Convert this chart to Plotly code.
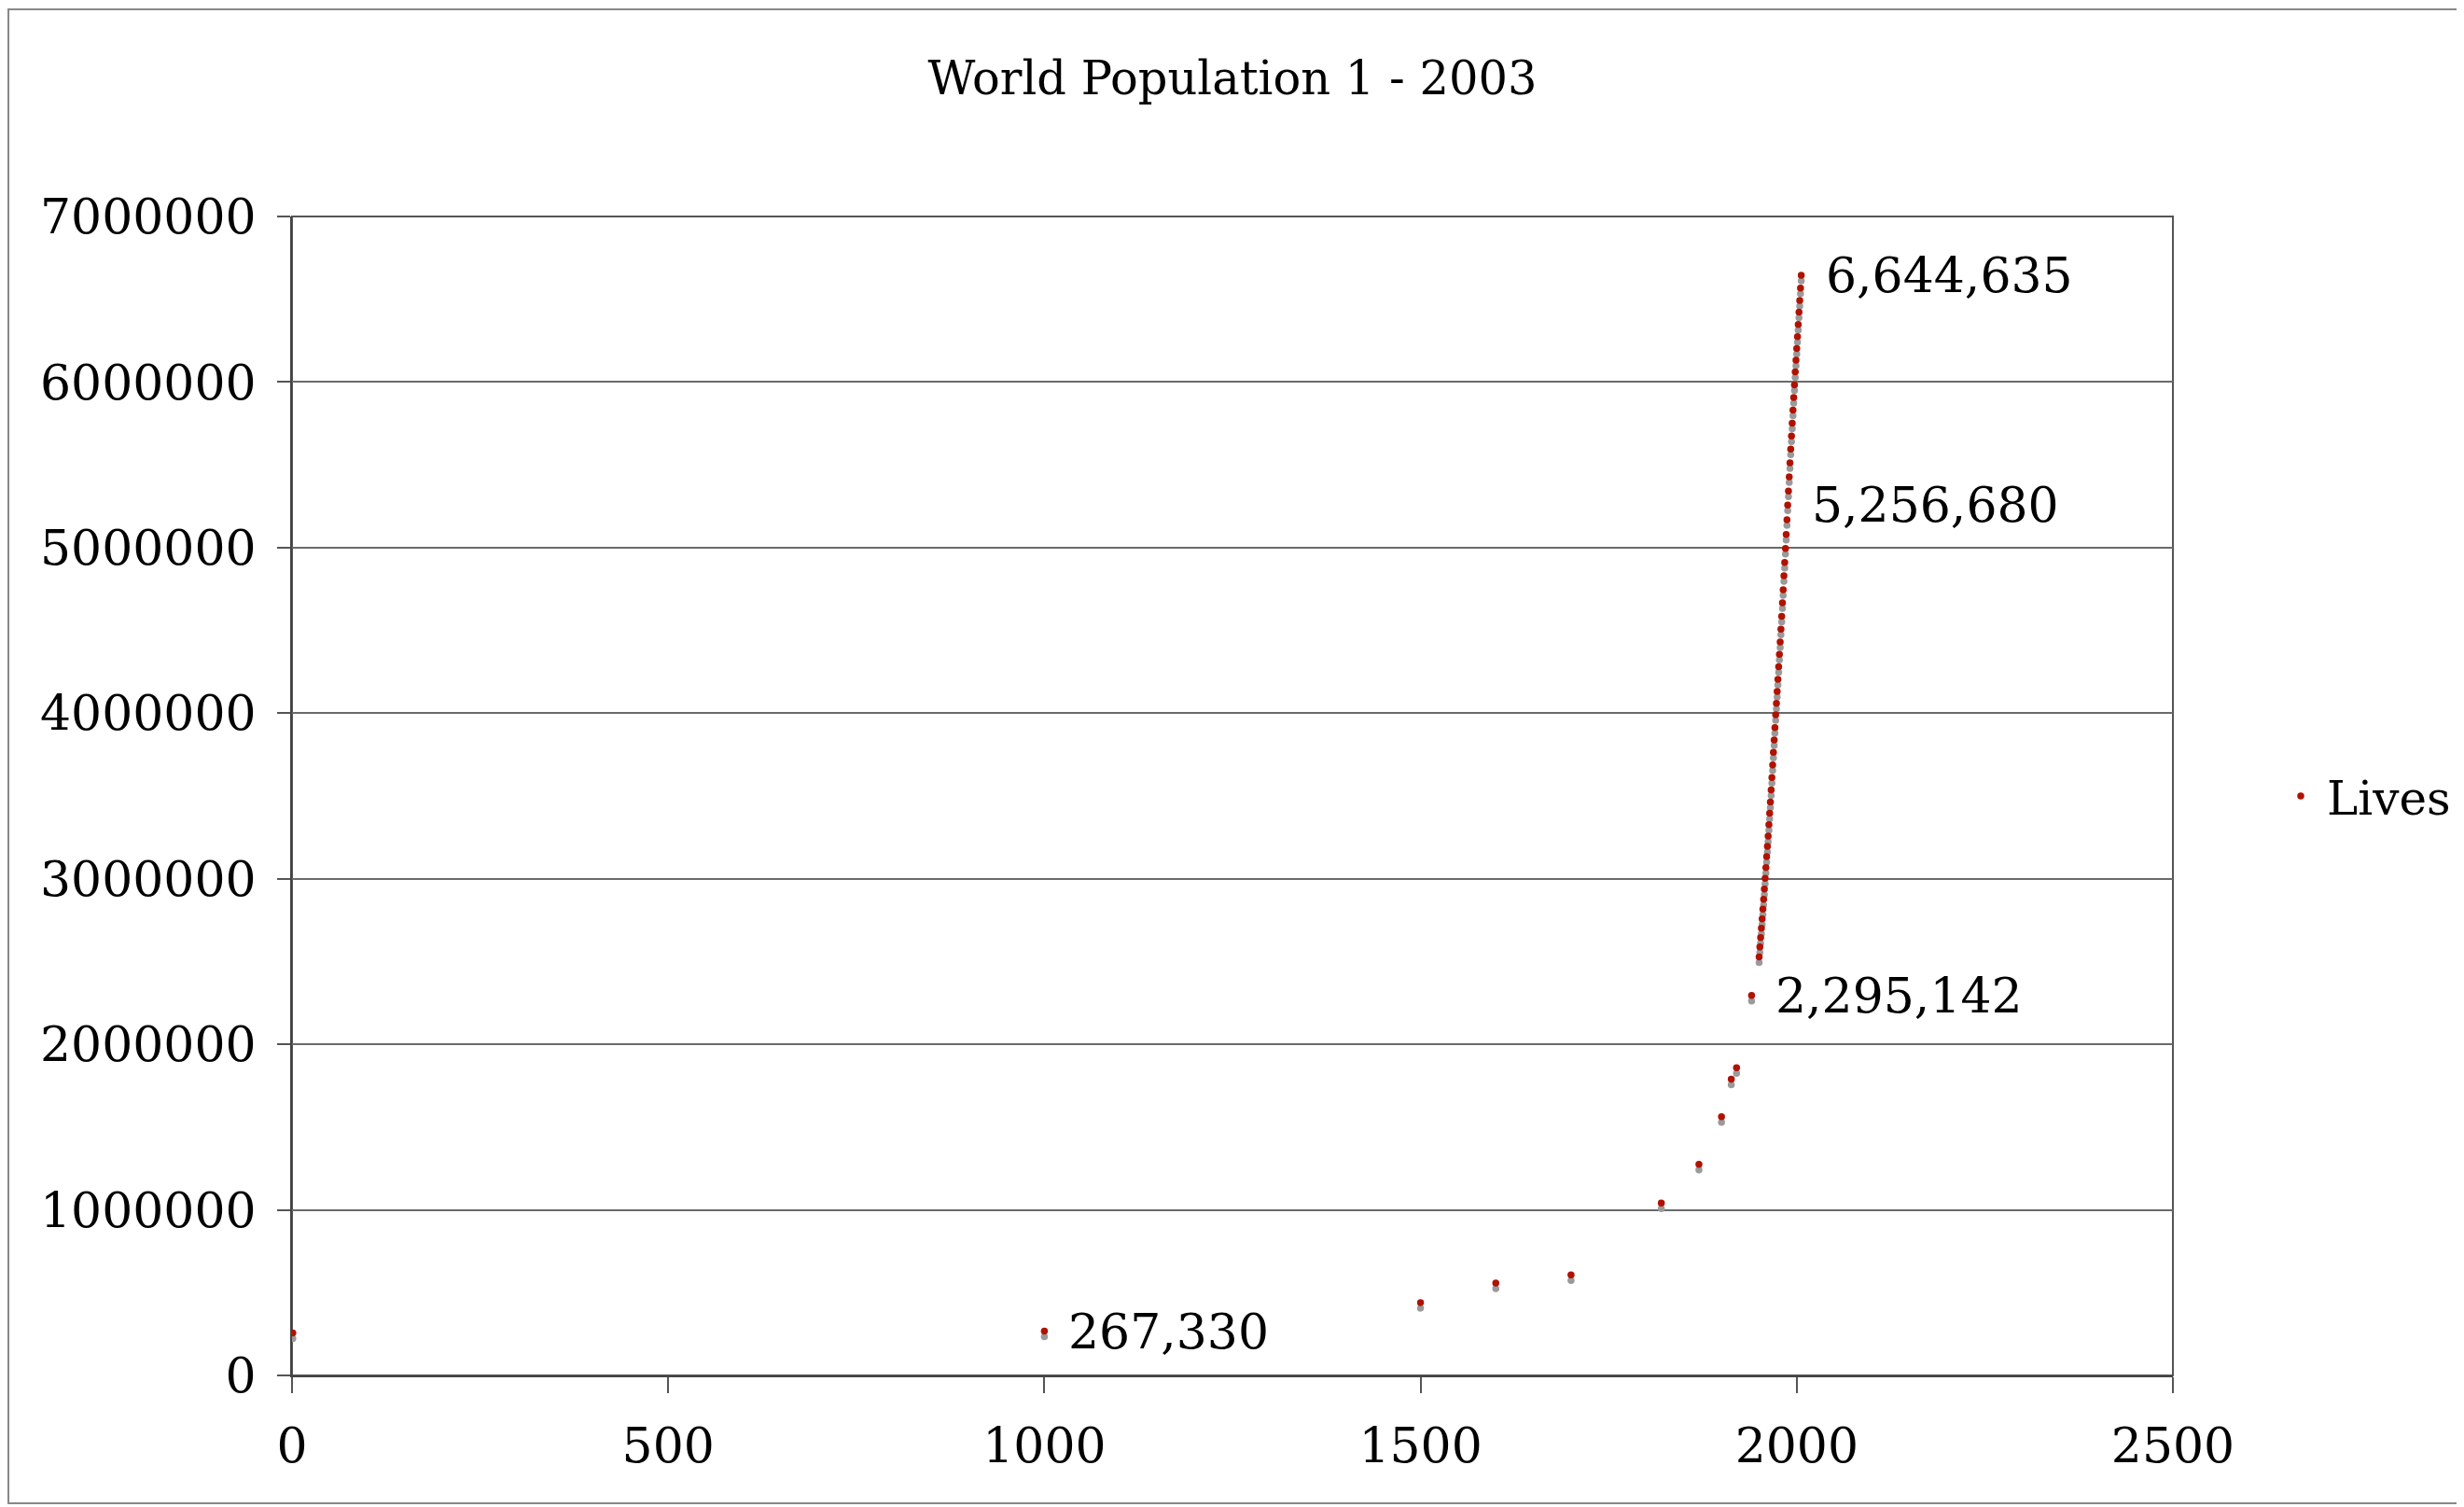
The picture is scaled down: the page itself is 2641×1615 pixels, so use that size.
import plotly.graph_objects as go

# ---- data ----
years = [1, 1000, 1500, 1600, 1700, 1820, 1870, 1900, 1913, 1920, 1940,
         1950, 1951, 1952, 1953, 1954, 1955, 1956, 1957, 1958, 1959,
         1960, 1961, 1962, 1963, 1964, 1965, 1966, 1967, 1968, 1969,
         1970, 1971, 1972, 1973, 1974, 1975, 1976, 1977, 1978, 1979,
         1980, 1981, 1982, 1983, 1984, 1985, 1986, 1987, 1988, 1989,
         1990, 1991, 1992, 1993, 1994, 1995, 1996, 1997, 1998, 1999,
         2000, 2001, 2002, 2003, 2004, 2005, 2006]
lives = [257000, 267330, 440000, 558000, 607000, 1041000, 1275000, 1563000, 1790000, 1859000, 2295142,
         2528000, 2588000, 2645000, 2701000, 2758000, 2816000, 2876000, 2938000, 3002000, 3068000,
         3133000, 3195000, 3257000, 3327000, 3396000, 3464000, 3537000, 3612000, 3688000, 3763000,
         3838000, 3913000, 3990000, 4060000, 4131000, 4204000, 4280000, 4355000, 4430000, 4507000,
         4585000, 4666000, 4745000, 4830000, 4911000, 4995000, 5080000, 5168000, 5256680, 5341000,
         5427000, 5512000, 5595000, 5674000, 5751000, 5830000, 5906000, 5982000, 6061000, 6132000,
         6202000, 6275000, 6348000, 6422000, 6493000, 6568000, 6644635]
labeled_years = [1000, 1940, 1988, 2006]
series_name = "Lives"
title_text = "World Population 1 - 2003"
x_ticks = [0, 500, 1000, 1500, 2000, 2500]
y_ticks = [0, 1000000, 2000000, 3000000, 4000000, 5000000, 6000000, 7000000]

# ---- layout constants (page body has an 8px default margin) ----
W, H = 2641, 1615
ML, MR, MT, MB = 305, 320, 224, 149
plot_w = W - ML - MR
plot_h = H - MT - MB
y_max = 7000000
shadow_px = 6
shadow_shift = shadow_px / plot_h * y_max
FONT = "DejaVu Serif"
FS = 52
RED = "#B01200"
GREY = "#9A9A9A"

fig = go.Figure()

# shadow (base axis, shifted range so marks sit a few px lower)
fig.add_trace(go.Scatter(
    x=years, y=lives, mode="markers", xaxis="x", yaxis="y",
    marker=dict(color=GREY, size=7.5, line=dict(width=0)),
    showlegend=False, hoverinfo="skip"))

# main series on overlaying axis
fig.add_trace(go.Scatter(
    x=years, y=lives, mode="markers", xaxis="x", yaxis="y2",
    name=series_name,
    marker=dict(color=RED, size=7.5, line=dict(width=0))))

annotations = []
for yr in labeled_years:
    i = years.index(yr)
    annotations.append(dict(
        x=years[i], y=lives[i], xref="x", yref="y2",
        text=f"{lives[i]:,}", showarrow=False,
        xanchor="left", yanchor="middle", xshift=24,
        font=dict(family=FONT, size=FS, color="black")))

fig.update_layout(
    width=W, height=H,
    margin=dict(l=ML, r=MR, t=MT, b=MB),
    paper_bgcolor="white", plot_bgcolor="white",
    font=dict(family=FONT, size=FS, color="black"),
    title=dict(text=title_text, x=0.5, xanchor="center", xref="paper",
               y=1 - 76 / H, yref="container", yanchor="middle",
               font=dict(family=FONT, size=49.5, color="black")),
    xaxis=dict(range=[0, 2500], tickvals=x_ticks, ticks="outside", ticklen=17,
               tickwidth=2, tickcolor="#555", showgrid=False, zeroline=False,
               showline=True, linecolor="#444", linewidth=2,
               ticklabelstandoff=12,
               tickfont=dict(family=FONT, size=FS, color="black")),
    yaxis=dict(range=[shadow_shift, y_max + shadow_shift], visible=False,
               showgrid=False, zeroline=False),
    yaxis2=dict(range=[0, y_max], overlaying="y", side="left",
                tickvals=y_ticks, tickformat="d", ticks="outside", ticklen=14,
                tickwidth=2, tickcolor="#555",
                showgrid=True, gridcolor="#6a6a6a", gridwidth=2,
                zeroline=False, showline=True, linecolor="#444", linewidth=2,
                ticklabelstandoff=12,
                tickfont=dict(family=FONT, size=FS, color="black")),
    legend=dict(x=(2438 - 8 - ML) / plot_w, xanchor="left", y=0.5, yanchor="middle",
                xref="paper", yref="paper", itemwidth=46,
                font=dict(family=FONT, size=50, color="black"),
                bgcolor="rgba(0,0,0,0)", borderwidth=0),
    annotations=annotations,
    shapes=[
        # plot area box
        dict(type="rect", xref="paper", yref="paper", x0=0, y0=0, x1=1, y1=1,
             line=dict(color="#555", width=2), layer="below"),
        # outer chart border
        dict(type="rect", xref="paper", yref="paper",
             x0=(1 - ML) / plot_w, x1=(W - 9 - ML) / plot_w,
             y0=-(MB - 12) / plot_h, y1=1 + (MT - 2) / plot_h,
             line=dict(color="#888", width=2), layer="below"),
    ],
)

fig.write_html("out.html", config={"displayModeBar": False})
